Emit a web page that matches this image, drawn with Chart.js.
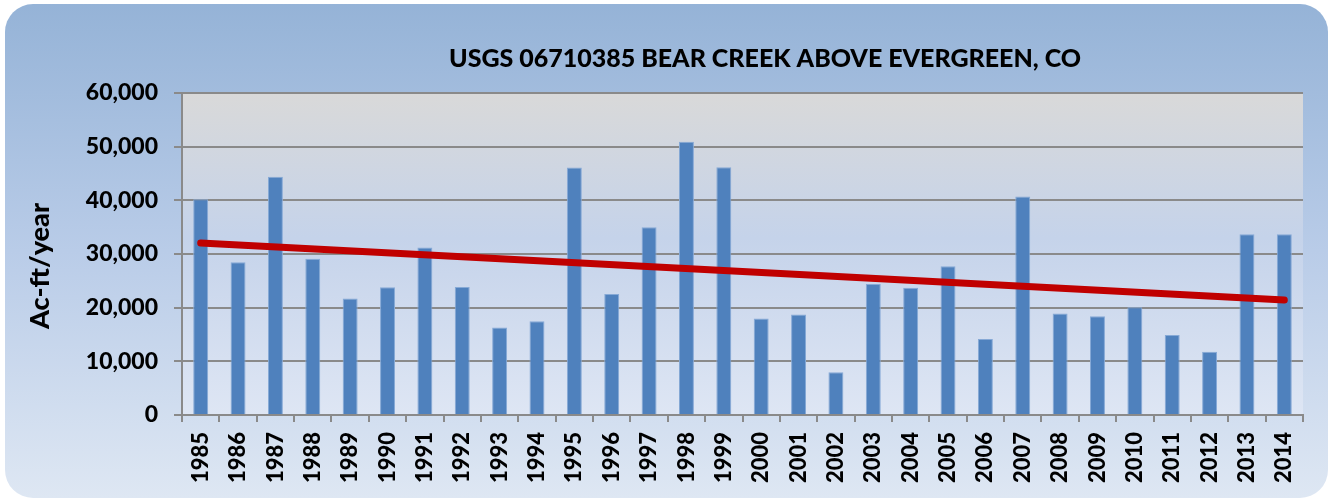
<!DOCTYPE html>
<html>
<head>
    <title>USGS 06710385 Bear Creek above Evergreen, CO</title>
    <style>
        body { margin: 0; background: #ffffff; }
        #chartContainer { width: 1331px; height: 502px; }
    </style>
    <script src="https://cdn.jsdelivr.net/npm/chart.js"></script>
</head>
<body>

    <div id="chartContainer">
        <canvas id="myBarChart"></canvas>
    </div>

    <script>
        const years = ['1985', '1986', '1987', '1988', '1989', '1990', '1991', '1992', '1993', '1994',
            '1995', '1996', '1997', '1998', '1999', '2000', '2001', '2002', '2003', '2004',
            '2005', '2006', '2007', '2008', '2009', '2010', '2011', '2012', '2013', '2014'];
        const flowAcFt = [40200, 28450, 44400, 29100, 21700, 23800, 31200, 23850, 16300, 17450,
            46100, 22550, 35000, 50900, 46150, 18000, 18750, 7950, 24400, 23700,
            27700, 14150, 40700, 18900, 18400, 20100, 14900, 11800, 33700, 33700];
        // trend line read at both ends only, joined across the gaps
        const trendAcFt = [32050, null, null, null, null, null, null, null, null, null,
            null, null, null, null, null, null, null, null, null, null,
            null, null, null, null, null, null, null, null, null, 21430];
        const yTicks = [0, 10000, 20000, 30000, 40000, 50000, 60000];

        const chartTitle = 'USGS 06710385 BEAR CREEK ABOVE EVERGREEN, CO';
        const yTitle = 'Ac-ft/year';
        const font = 'Lato, "Liberation Sans", sans-serif';

        const backgroundPlugin = {
            id: 'backgrounds',
            beforeDraw(chart) {
                const ctx = chart.ctx;
                const area = chart.chartArea;
                ctx.save();
                // outer rounded panel
                let g = ctx.createLinearGradient(0, 4, 0, 498);
                g.addColorStop(0, '#95b3d7');
                g.addColorStop(0.5, '#b9cce8');
                g.addColorStop(1, '#dee7f3');
                ctx.fillStyle = g;
                ctx.beginPath();
                ctx.roundRect(5, 4, 1323, 494, 28);
                ctx.fill();
                // plot area
                g = ctx.createLinearGradient(0, area.top, 0, area.bottom);
                g.addColorStop(0, '#d9d9d9');
                g.addColorStop(0.45, '#c5d3ea');
                g.addColorStop(1, '#dee6f4');
                ctx.fillStyle = g;
                ctx.fillRect(area.left, area.top, area.right - area.left, area.bottom - area.top);
                // titles
                ctx.fillStyle = '#000000';
                ctx.font = '900 25px ' + font;
                ctx.textAlign = 'center';
                ctx.textBaseline = 'middle';
                ctx.fillText(chartTitle, 765, 59);
                ctx.translate(40, 266);
                ctx.rotate(-Math.PI / 2);
                ctx.font = '900 27px ' + font;
                ctx.fillText(yTitle, 0, 0);
                ctx.restore();
            }
        };

        const ctx = document.getElementById('myBarChart').getContext('2d');
        new Chart(ctx, {
            data: {
                labels: years,
                datasets: [{
                    type: 'line',
                    label: 'Trend',
                    data: trendAcFt,
                    spanGaps: true,
                    borderColor: '#c00000',
                    borderWidth: 7,
                    borderCapStyle: 'round',
                    pointRadius: 0,
                    order: 0
                }, {
                    type: 'bar',
                    label: 'Ac-ft/year',
                    data: flowAcFt,
                    backgroundColor: '#4f81bd',
                    borderColor: '#86a9d6',
                    borderWidth: 1,
                    categoryPercentage: 0.8,
                    barPercentage: 0.5,
                    order: 1
                }]
            },
            options: {
                responsive: true,
                maintainAspectRatio: false,
                animation: false,
                layout: {
                    padding: { top: 93, left: 22, right: 28, bottom: 0 }
                },
                plugins: {
                    legend: { display: false },
                    tooltip: { enabled: false }
                },
                scales: {
                    x: {
                        afterFit: s => { s.height = 87; },
                        grid: {
                            drawOnChartArea: false,
                            color: '#8a8a8a',
                            lineWidth: 2,
                            tickLength: 7
                        },
                        border: { color: '#8a8a8a', width: 2 },
                        ticks: {
                            autoSkip: false,
                            minRotation: 90,
                            maxRotation: 90,
                            padding: 10,
                            color: '#000000',
                            font: { family: font, size: 22, weight: '900' }
                        }
                    },
                    y: {
                        min: 0,
                        max: 60000,
                        afterFit: s => { s.width = 160; },
                        afterBuildTicks: s => { s.ticks = yTicks.map(v => ({ value: v })); },
                        grid: {
                            color: '#8a8a8a',
                            lineWidth: 2,
                            tickLength: 8
                        },
                        border: { color: '#8a8a8a', width: 2 },
                        ticks: {
                            padding: 16,
                            color: '#000000',
                            font: { family: font, size: 23, weight: '900' },
                            callback: v => v.toLocaleString('en-US')
                        }
                    }
                }
            },
            plugins: [backgroundPlugin]
        });
    </script>

</body>
</html>
